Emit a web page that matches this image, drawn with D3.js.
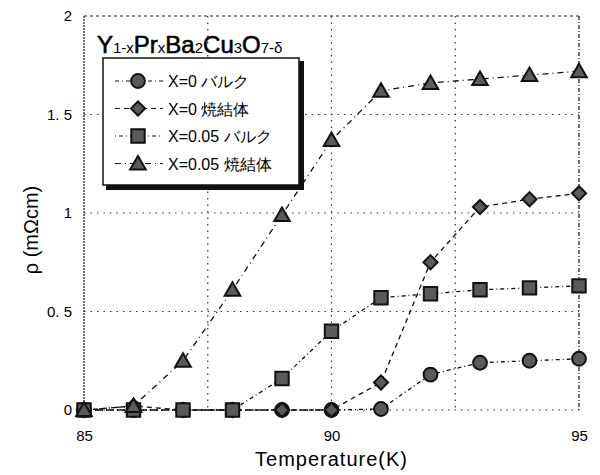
<!DOCTYPE html>
<html>
<head>
<meta charset="utf-8">
<script src="https://cdn.jsdelivr.net/npm/d3@7"></script>
<style>
body { margin: 0; background: #fff; }
text { font-family: "Liberation Sans Narrow", "Liberation Sans", Arial, sans-serif; }
</style>
</head>
<body>
<div class="chart"></div>
<script>
const temps = [85, 86, 87, 88, 89, 90, 91, 92, 93, 94, 95];
const bulk0 = [0, 0, 0, 0, 0, 0, 0.005, 0.18, 0.24, 0.25, 0.26];
const sinter0 = [0, 0.02, 0, 0, 0, 0, 0.14, 0.75, 1.03, 1.07, 1.10];
const bulk05 = [0, 0, 0, 0, 0.16, 0.40, 0.57, 0.59, 0.61, 0.62, 0.63];
const sinter05 = [0, 0.02, 0.25, 0.61, 0.99, 1.37, 1.62, 1.66, 1.68, 1.70, 1.72];
const xTicks = [85, 90, 95];
const yTicks = [0, 0.5, 1, 1.5, 2];
const seriesNames = ["X=0 バルク", "X=0 焼結体", "X=0.05 バルク", "X=0.05 焼結体"];

const width = 600, height = 475;
const svg = d3.select('.chart').append('svg')
    .attr('width', width).attr('height', height);

const x = d3.scaleLinear().domain([85, 95]).range([84, 579]);
const y = d3.scaleLinear().domain([0, 2]).range([410, 16]);

// grid
svg.selectAll('line.vgrid').data([87.5, 90, 92.5]).enter().append('line')
    .attr('x1', d => x(d)).attr('x2', d => x(d))
    .attr('y1', y(2)).attr('y2', y(0))
    .attr('stroke', '#333').attr('stroke-width', 1.2)
    .attr('stroke-dasharray', '1.5,5');
svg.selectAll('line.hgrid').data([0, 0.5, 1, 1.5]).enter().append('line')
    .attr('x1', x(85)).attr('x2', x(95))
    .attr('y1', d => y(d)).attr('y2', d => y(d))
    .attr('stroke', '#333').attr('stroke-width', 1.2)
    .attr('stroke-dasharray', '1.5,5');
// frame
svg.append('line').attr('x1', x(85)).attr('x2', x(95)).attr('y1', y(2)).attr('y2', y(2))
    .attr('stroke', '#222').attr('stroke-dasharray', '3,3');
svg.append('line').attr('x1', x(95)).attr('x2', x(95)).attr('y1', y(2)).attr('y2', y(0))
    .attr('stroke', '#222').attr('stroke-width', 1.3).attr('stroke-dasharray', '4,2,1,2');
svg.append('line').attr('x1', x(85)).attr('x2', x(85)).attr('y1', y(2)).attr('y2', y(0))
    .attr('stroke', '#222').attr('stroke-width', 1.3).attr('stroke-dasharray', '2,1');

// axes labels (no lines)
const xAxis = svg.append('g').attr('transform', `translate(0,${y(0) + 20})`)
    .call(d3.axisBottom(x).tickValues(xTicks).tickSize(0).tickPadding(0));
xAxis.select('.domain').remove();
xAxis.selectAll('text').attr('font-size', 15).attr('fill', '#000');

const yAxis = svg.append('g').attr('transform', `translate(${x(85) - 12},0)`)
    .call(d3.axisLeft(y).tickValues(yTicks).tickSize(0).tickPadding(0)
        .tickFormat(d => d === 0 ? '0' : String(d).replace('.', '. ')));
yAxis.select('.domain').remove();
yAxis.selectAll('text').attr('font-size', 15).attr('fill', '#000');

svg.append('text').attr('x', x(90)).attr('y', 466).attr('text-anchor', 'middle')
    .attr('font-size', 20).attr('letter-spacing', 1).text('Temperature(K)');
svg.append('text').attr('transform', 'translate(38,230) rotate(-90)')
    .attr('text-anchor', 'middle').attr('font-size', 20).text('ρ (mΩcm)');

// series
const data = [bulk0, sinter0, bulk05, sinter05].map((vals, i) => ({
    name: seriesNames[i],
    sym: [d3.symbolCircle, d3.symbolSquare, d3.symbolSquare, d3.symbolTriangle][i],
    rot: i === 1 ? 45 : 0,
    size: [150, 100, 180, 105][i],
    dy: i === 3 ? 1.5 : 0,
    dash: ['4,3,1,3', '5,4', '1,3,4,3', '6,4,1,4'][i],
    pts: temps.map((t, j) => ({t, v: vals[j]}))
}));

const line = d3.line().x(d => x(d.t)).y(d => y(d.v));
svg.selectAll('path.series').data(data).enter().append('path')
    .attr('d', d => line(d.pts))
    .attr('fill', 'none').attr('stroke', '#111').attr('stroke-width', 1.3)
    .attr('stroke-dasharray', d => d.dash);

data.forEach(s => {
    svg.selectAll(null).data(s.pts).enter().append('path')
        .attr('transform', d => `translate(${x(d.t)},${y(d.v) + s.dy}) rotate(${s.rot})`)
        .attr('d', d3.symbol().type(s.sym).size(s.size))
        .attr('fill', '#5a5a5a').attr('stroke', '#111').attr('stroke-width', 2);
});

// title
const title = svg.append('text').attr('x', 97).attr('y', 53)
    .attr('font-size', 24);
[['Y', 0], ['1-x', 1], ['Pr', 0], ['x', 1], ['Ba', 0], ['2', 1], ['Cu', 0], ['3', 1], ['O', 0], ['7-δ', 1]]
    .forEach(([t, sub]) => {
        title.append('tspan').attr('font-size', sub ? 15 : 24)
            .attr('stroke', sub ? 'none' : '#000').attr('stroke-width', 0.6)
            .text(t);
    });

// legend
const lg = svg.append('g');
lg.append('rect').attr('x', 106).attr('y', 61).attr('width', 198).attr('height', 129).attr('fill', '#111');
lg.append('rect').attr('x', 103).attr('y', 58).attr('width', 196).attr('height', 127)
    .attr('fill', '#fff').attr('stroke', '#111').attr('stroke-width', 1.5);
data.forEach((s, i) => {
    const ly = 81 + i * 27.5;
    lg.append('line').attr('x1', 115).attr('x2', 163).attr('y1', ly).attr('y2', ly)
        .attr('stroke', '#111').attr('stroke-width', 1.2).attr('stroke-dasharray', s.dash);
    lg.append('path').attr('transform', `translate(138,${ly + s.dy}) rotate(${s.rot})`)
        .attr('d', d3.symbol().type(s.sym).size(s.size))
        .attr('fill', '#5a5a5a').attr('stroke', '#111').attr('stroke-width', 2);
    lg.append('text').attr('x', 168).attr('y', ly + 6).attr('font-size', 16)
        .attr('font-family', '"Noto Sans CJK JP", sans-serif').text(s.name);
});
</script>
</body>
</html>
